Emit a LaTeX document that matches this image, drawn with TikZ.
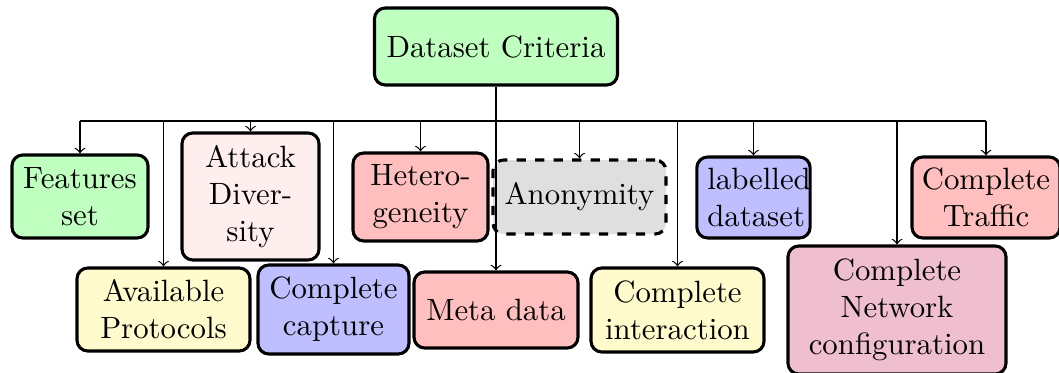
\documentclass[tikz,border=0pt]{standalone}
\newcommand\pxu{0.3247pt}
\tikzset{
  crit/.style={draw=black, line width=1pt, rounded corners=3.5pt, align=center, inner sep=0pt, font=\normalsize},
  conn/.style={->, line width=0.4pt},
}
\definecolor{cgreen}{HTML}{BFFFBF}
\definecolor{cpink}{HTML}{FFEEEE}
\definecolor{cred}{HTML}{FFBFBF}
\definecolor{cgray}{HTML}{DFDFDF}
\definecolor{cblue}{HTML}{BFBFFF}
\definecolor{cyellow}{HTML}{FFFBCC}
\definecolor{cpurple}{HTML}{EFBFCF}
\begin{document}
\begin{tikzpicture}[x=\pxu, y=-\pxu]
\useasboundingbox (0,0) rectangle (1059,372);
\node[crit, fill=cgreen, minimum width=243*\pxu, minimum height=77*\pxu] (root) at (496,46.5) {Dataset Criteria};
% top row
\node[crit, fill=cgreen, minimum width=136*\pxu, minimum height=83*\pxu] (feat) at (80,196.5) {Features\\set};
\node[crit, fill=cpink, minimum width=137*\pxu, minimum height=127*\pxu] (attack) at (250.5,196.5) {Attack\\Diver-\\sity};
\node[crit, fill=cred, minimum width=135*\pxu, minimum height=88*\pxu] (hetero) at (420.5,197) {Hetero-\\geneity};
\node[crit, fill=cgray, dashed, minimum width=173*\pxu, minimum height=74*\pxu] (anon) at (579.5,197) {Anonymity};
\node[crit, fill=cblue, inner sep=3.4pt, text width=30pt, minimum height=81*\pxu] (label) at (753.5,197.5) {labelled\\dataset};
\node[crit, fill=cred, minimum width=148*\pxu, minimum height=81*\pxu] (traffic) at (986,197.5) {Complete\\Traffic};
% bottom row
\node[crit, fill=cyellow, minimum width=173*\pxu, minimum height=83*\pxu] (avail) at (163.5,309.5) {Available\\Protocols};
\node[crit, fill=cblue, minimum width=151*\pxu, minimum height=89*\pxu] (capture) at (333.5,309.5) {Complete\\capture};
\node[crit, fill=cred, minimum width=164*\pxu, minimum height=76*\pxu] (meta) at (496,310) {Meta data};
\node[crit, fill=cyellow, minimum width=173*\pxu, minimum height=84*\pxu] (inter) at (677.5,310) {Complete\\interaction};
\node[crit, fill=cpurple, minimum width=218*\pxu, minimum height=128*\pxu] (net) at (897,310) {Complete\\Network\\configuration};
% connectors
\coordinate (bus) at (root.south |- 0,121);
\draw[line width=0.7pt] (root.south) -- (bus);
\draw[line width=0.5pt] (bus -| feat.north) -- (bus -| traffic.north);
\draw[conn] (bus) -- (meta.north);
\foreach \n in {feat, attack, hetero, anon, label, traffic, avail, capture, inter, net}
  \draw[conn] (bus -| \n.north) -- (\n.north);
\end{tikzpicture}
\end{document}
